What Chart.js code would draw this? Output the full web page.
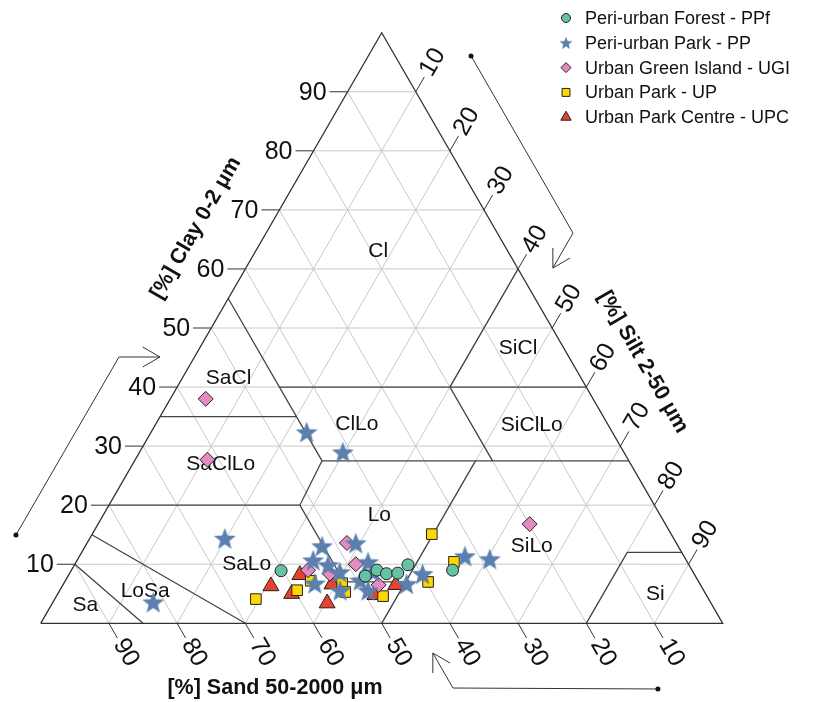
<!DOCTYPE html>
<html>
<head>
<meta charset="utf-8">
<script src="https://cdn.jsdelivr.net/npm/chart.js@4.4.1/dist/chart.umd.min.js"></script>
<style>
  html, body { margin: 0; padding: 0; background: #fff; }
</style>
</head>
<body>
<canvas id="triangulo" width="822" height="702"></canvas>
<script>
// composição das amostras: % areia e % argila (silte = resto)
const seriesNames = [
  "Peri-urban Forest - PPf",
  "Peri-urban Park - PP",
  "Urban Green Island - UGI",
  "Urban Park - UP",
  "Urban Park Centre - UPC",
];

const sandPPf = [60.3, 48.4, 46.2, 45.1, 43.4, 41.2, 35.1];
const clayPPf = [8.9, 8.0, 9.0, 8.4, 8.5, 9.9, 9.0];

const sandPP = [44.8, 41.2, 65.8, 81.7, 52.2, 47.0, 54.7, 52.9, 51.8, 56.4, 53.3, 49.5, 46.8, 49.2, 43.0, 39.8, 32.1, 28.7, 46.9];
const clayPP = [32.4, 29.0, 14.4, 3.6, 13.1, 13.6, 10.7, 9.9, 8.7, 6.8, 5.6, 7.3, 10.4, 5.6, 6.7, 8.4, 11.4, 10.9, 8.7];

const sandUGI = [56.8, 61.7, 19.9, 48.3, 48.8, 56.3, 53.4, 47.2];
const clayUGI = [38.0, 27.7, 16.8, 13.6, 10.0, 9.0, 8.4, 6.5];

const sandUP = [66.4, 59.6, 56.8, 52.4, 52.7, 47.5, 39.7, 35.1, 34.2];
const clayUP = [4.1, 5.6, 7.2, 6.8, 5.3, 4.6, 7.0, 15.1, 10.4];

const sandUPC = [63.1, 60.7, 57.9, 56.3, 54.0, 48.6, 44.7];
const clayUPC = [6.3, 5.0, 8.2, 3.4, 6.6, 4.8, 6.5];

const gridTicks = [10, 20, 30, 40, 50, 60, 70, 80, 90];

// limites das classes texturais (USDA), pares [areia, argila]
const classLines = [
  [[85, 0], [90, 10]],
  [[70, 0], [85, 15]],
  [[80, 20], [52, 20], [45, 27.5], [45, 55]],
  [[52, 20], [52, 7], [43, 7]],
  [[65, 35], [45, 35]],
  [[45, 40], [0, 40]],
  [[45, 27.5], [0, 27.5]],
  [[20, 27.5], [20, 40], [0, 60]],
  [[50, 0], [22.5, 27.5]],
  [[20, 0], [8, 12], [0, 12]],
];

const classNames = ["Sa", "LoSa", "SaLo", "SaCl", "SaClLo", "Lo", "SiLo", "SiCl", "SiClLo", "Si", "Cl", "ClLo"];
const classSand = [91.9, 82.0, 64.8, 51.7, 60.1, 41.2, 21.5, 6.7, 11.2, 7.4, 19.0, 36.8];
const classClay = [3.1, 5.35, 10.0, 41.5, 27.0, 18.3, 13.0, 46.6, 33.6, 4.96, 63.0, 33.7];

const H = Math.sqrt(3) / 2;
const FONTE = '"Liberation Sans", Arial, sans-serif';

function paraXY(sand, clay) {
  return sand.map((s, i) => ({ x: 100 - s - clay[i] / 2, y: clay[i] * H }));
}

function fazerEstrela(raio, cor) {
  const tam = Math.ceil(raio * 2) + 2;
  const c = document.createElement("canvas");
  c.width = tam;
  c.height = tam;
  const g = c.getContext("2d");
  g.translate(tam / 2, tam / 2 + raio * 0.1);
  g.beginPath();
  for (let i = 0; i < 10; i++) {
    const r = i % 2 === 0 ? raio : raio * 0.42;
    const a = -Math.PI / 2 + (i * Math.PI) / 5;
    g.lineTo(r * Math.cos(a), r * Math.sin(a));
  }
  g.closePath();
  g.fillStyle = cor;
  g.fill();
  return c;
}

const corEstrela = "#5b7fae";
const estrelaGrande = fazerEstrela(11.5, corEstrela);
const estrelaLegenda = fazerEstrela(6.8, corEstrela);

const estilos = [
  { pointStyle: "circle", radius: 6, bg: "#66c2a5", legRadius: 4.5 },
  { pointStyle: estrelaGrande, radius: 11, bg: corEstrela, legStyle: estrelaLegenda },
  { pointStyle: "rectRot", radius: 7.5, bg: "#e78ac3", legRadius: 5 },
  { pointStyle: "rect", radius: 7.5, bg: "#ffd700", legRadius: 5.6 },
  { pointStyle: "triangle", radius: 9.2, bg: "#e8412c", legRadius: 6 },
];

function px(chart, x, y) {
  return [chart.scales.x.getPixelForValue(x), chart.scales.y.getPixelForValue(y)];
}
function pt(chart, sand, clay) {
  return px(chart, 100 - sand - clay / 2, clay * H);
}

function linha(ctx, pontos) {
  ctx.beginPath();
  pontos.forEach((p, i) => (i ? ctx.lineTo(p[0], p[1]) : ctx.moveTo(p[0], p[1])));
  ctx.stroke();
}

function seta(ctx, pontos) {
  ctx.strokeStyle = "#333";
  ctx.lineWidth = 1;
  linha(ctx, pontos);
  const a = pontos[pontos.length - 2];
  const b = pontos[pontos.length - 1];
  const ang = Math.atan2(a[1] - b[1], a[0] - b[0]);
  const L = 20;
  linha(ctx, [
    [b[0] + L * Math.cos(ang + Math.PI / 6), b[1] + L * Math.sin(ang + Math.PI / 6)],
    b,
    [b[0] + L * Math.cos(ang - Math.PI / 6), b[1] + L * Math.sin(ang - Math.PI / 6)],
  ]);
  const d = pontos[0];
  ctx.fillStyle = "#111";
  ctx.beginPath();
  ctx.arc(d[0], d[1], 2.5, 0, Math.PI * 2);
  ctx.fill();
}

function textoRodado(ctx, txt, x, y, ang, align) {
  ctx.save();
  ctx.translate(x, y);
  ctx.rotate((ang * Math.PI) / 180);
  ctx.textAlign = align;
  ctx.textBaseline = "middle";
  ctx.fillText(txt, 0, 0);
  ctx.restore();
}

const moldura = {
  id: "moldura",
  beforeDatasetsDraw(chart) {
    const ctx = chart.ctx;
    ctx.save();

    // grade
    ctx.strokeStyle = "#c8c8c8";
    ctx.lineWidth = 1;
    gridTicks.forEach((v) => {
      linha(ctx, [pt(chart, 100 - v, v), pt(chart, 0, v)]);
      linha(ctx, [pt(chart, v, 0), pt(chart, v, 100 - v)]);
      linha(ctx, [pt(chart, 100 - v, 0), pt(chart, 0, 100 - v)]);
    });

    // classes
    ctx.strokeStyle = "#444";
    ctx.lineWidth = 1.3;
    classLines.forEach((l) => linha(ctx, l.map((p) => pt(chart, p[0], p[1]))));

    // triângulo
    ctx.strokeStyle = "#333";
    ctx.lineWidth = 1.3;
    linha(ctx, [pt(chart, 100, 0), pt(chart, 0, 0), pt(chart, 0, 100), pt(chart, 100, 0)]);

    // marcas e rótulos
    ctx.fillStyle = "#111";
    ctx.strokeStyle = "#333";
    ctx.lineWidth = 1;
    ctx.font = "25px " + FONTE;
    const cx = 0.5, cy = H;
    gridTicks.forEach((v) => {
      const a = pt(chart, 100 - v, v);
      linha(ctx, [a, [a[0] - 18, a[1]]]);
      ctx.textAlign = "right";
      ctx.textBaseline = "middle";
      ctx.fillText(String(v), a[0] - 21, a[1] + 1);

      const b = pt(chart, v, 0);
      const bf = [b[0] + 17 * cx, b[1] + 17 * cy];
      linha(ctx, [b, bf]);
      textoRodado(ctx, String(v), bf[0] + 3 * cx, bf[1] + 3 * cy, 60, "left");

      const c = pt(chart, 0, 100 - v);
      const cf = [c[0] + 17 * cx, c[1] - 17 * cy];
      linha(ctx, [c, cf]);
      textoRodado(ctx, String(v), cf[0] + 3 * cx, cf[1] - 3 * cy, -60, "left");
    });

    // nomes das classes
    ctx.font = "21px " + FONTE;
    ctx.textAlign = "center";
    ctx.textBaseline = "middle";
    classNames.forEach((n, i) => {
      const p = pt(chart, classSand[i], classClay[i]);
      ctx.fillText(n, p[0], p[1]);
    });

    // títulos dos eixos
    ctx.font = "bold 21.5px " + FONTE;
    let p = px(chart, 22.77, 57.96);
    textoRodado(ctx, "[%] Clay 0-2 μm", p[0], p[1], -60, "center");
    p = px(chart, 88.3, 38.3);
    textoRodado(ctx, "[%] Silt 2-50 μm", p[0], p[1], 60, "center");
    p = px(chart, 34.35, -9.49);
    textoRodado(ctx, "[%] Sand 50-2000 μm", p[0], p[1], 0, "center");

    // setas
    seta(ctx, [px(chart, -3.63, 12.95), px(chart, 11.48, 39.05), px(chart, 17.49, 39.05)]);
    seta(ctx, [px(chart, 63.1, 83.2), px(chart, 78.05, 57.23), px(chart, 75.1, 52.1)]);
    seta(ctx, [px(chart, 90.5, -9.63), px(chart, 60.45, -9.49), px(chart, 57.5, -4.36)]);

    ctx.restore();
  },
  afterDatasetsDraw(chart) {
    const ctx = chart.ctx;
    ctx.save();
    ctx.font = "18px " + FONTE;
    ctx.textAlign = "left";
    ctx.textBaseline = "middle";
    seriesNames.forEach((nome, i) => {
      const y = 18 + i * 24.8;
      const e = estilos[i];
      ctx.fillStyle = e.bg;
      ctx.strokeStyle = "#222";
      ctx.lineWidth = 1;
      Chart.helpers.drawPoint(ctx, {
        pointStyle: e.legStyle || e.pointStyle,
        radius: e.legRadius || 5,
        rotation: 0,
        borderWidth: 1,
      }, 566, y);
      ctx.fillStyle = "#111";
      ctx.fillText(nome, 585, y + 1);
    });
    ctx.restore();
  },
};

const dados = [
  paraXY(sandPPf, clayPPf),
  paraXY(sandPP, clayPP),
  paraXY(sandUGI, clayUGI),
  paraXY(sandUP, clayUP),
  paraXY(sandUPC, clayUPC),
];

new Chart(document.getElementById("triangulo"), {
  type: "scatter",
  data: {
    datasets: dados.map((d, i) => ({
      label: seriesNames[i],
      data: d,
      pointStyle: estilos[i].pointStyle,
      pointRadius: estilos[i].radius,
      backgroundColor: estilos[i].bg,
      borderColor: i === 1 ? corEstrela : "#222",
      borderWidth: i === 1 ? 0 : 1,
      clip: false,
    })),
  },
  options: {
    responsive: false,
    animation: false,
    events: [],
    layout: {
      autoPadding: false,
      padding: { left: 40.7, right: 99.3, top: 32.7, bottom: 78.7 },
    },
    scales: {
      x: { type: "linear", min: 0, max: 100, display: false },
      y: { type: "linear", min: 0, max: 100 * H, display: false },
    },
    plugins: {
      legend: { display: false },
      tooltip: { enabled: false },
    },
  },
  plugins: [moldura],
});
</script>
</body>
</html>
